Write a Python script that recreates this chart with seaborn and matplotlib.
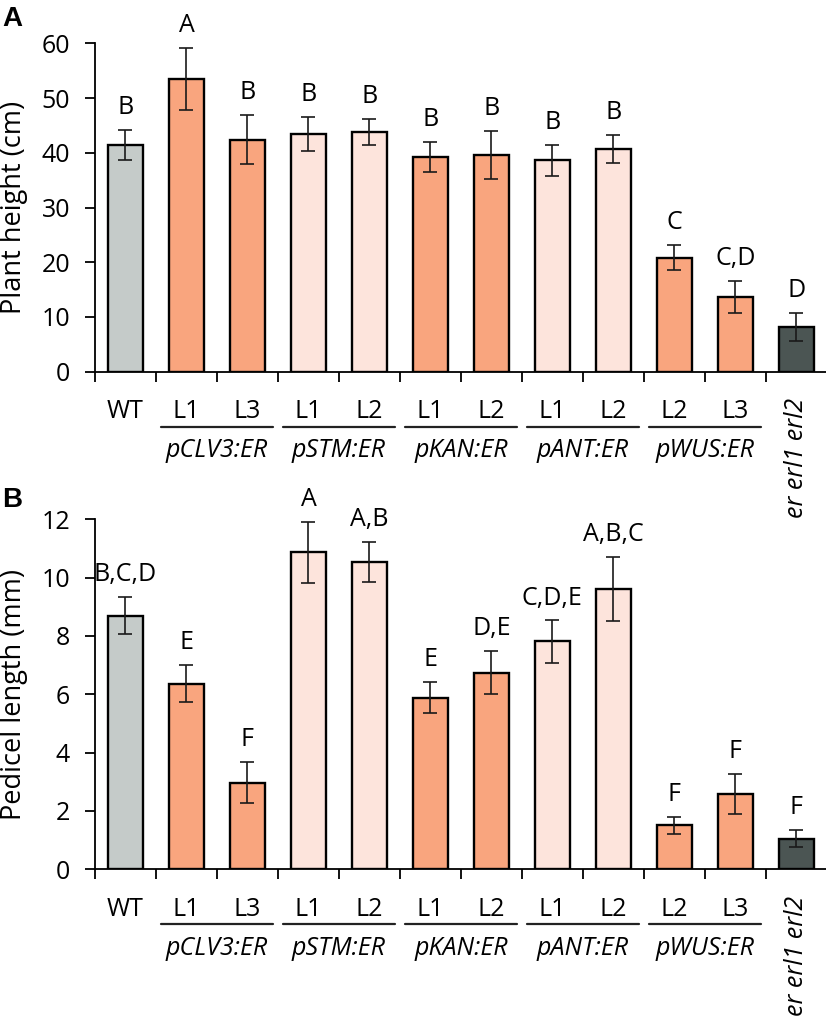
import numpy as np
import pandas as pd
import matplotlib
matplotlib.use("Agg")
import matplotlib.pyplot as plt
import matplotlib.transforms as mtransforms
import seaborn as sns

# -------------------------------
# DATA
# -------------------------------
categories = ["WT", "pCLV3 L1", "pCLV3 L3", "pSTM L1", "pSTM L2", "pKAN L1",
              "pKAN L2", "pANT L1", "pANT L2", "pWUS L2", "pWUS L3", "er erl1 erl2"]
tick_labels = ["WT", "L1", "L3", "L1", "L2", "L1", "L2", "L1", "L2", "L2", "L3", ""]
bar_kind = ["wt", "orange", "orange", "light", "light", "orange",
            "orange", "light", "light", "orange", "orange", "mutant"]

groups = ["pCLV3:ER", "pSTM:ER", "pKAN:ER", "pANT:ER", "pWUS:ER"]
group_start = [1, 3, 5, 7, 9]

height_mean = [41.4, 53.5, 42.4, 43.4, 43.8, 39.2, 39.6, 38.6, 40.7, 20.8, 13.6, 8.2]
height_err = [2.7, 5.7, 4.5, 3.1, 2.4, 2.7, 4.4, 2.8, 2.6, 2.3, 2.9, 2.6]
height_letters = ["B", "A", "B", "B", "B", "B", "B", "B", "B", "C", "C,D", "D"]

pedicel_mean = [8.70, 6.37, 2.97, 10.87, 10.53, 5.89, 6.74, 7.81, 9.60, 1.51, 2.58, 1.05]
pedicel_err = [0.65, 0.63, 0.70, 1.05, 0.68, 0.53, 0.74, 0.72, 1.10, 0.30, 0.69, 0.30]
pedicel_letters = ["B,C,D", "E", "F", "A", "A,B", "E", "D,E", "C,D,E", "A,B,C", "F", "F", "F"]

kind_colors = {"wt": "#c5cbc9", "orange": "#f9a57e", "light": "#fde4dc", "mutant": "#4b5553"}

# -------------------------------
# STYLE
# -------------------------------
sns.set_style("ticks")
plt.rcParams['font.family'] = ['Open Sans', 'DejaVu Sans']
plt.rcParams['text.color'] = 'black'
plt.rcParams['axes.labelcolor'] = 'black'
plt.rcParams['xtick.color'] = 'black'
plt.rcParams['ytick.color'] = 'black'
FS = 18


def draw_panel(ax, mean, err, letters, ymax, ystep, ylabel, panel):
    df = pd.DataFrame({"cat": categories, "val": mean, "err": err, "kind": bar_kind})
    palette = {c: kind_colors[k] for c, k in zip(categories, bar_kind)}
    sns.barplot(data=df, x="cat", y="val", hue="cat", palette=palette, legend=False,
                width=0.57, edgecolor="black", linewidth=1.7, saturation=1, ax=ax)
    xs = np.arange(len(categories))
    ax.errorbar(xs, df["val"], yerr=df["err"], fmt="none", ecolor="#1a1a1a",
                elinewidth=1.2, capsize=4.8, capthick=1.2, zorder=5)

    # significance letters
    for x, m, e, t in zip(xs, mean, err, letters):
        ax.annotate(t, xy=(x, m + e), xytext=(0, 11.5), textcoords="offset points",
                    ha="center", va="baseline", fontsize=FS)

    ax.set_xlim(-0.5, len(categories) - 0.5)
    ax.set_ylim(0, ymax)
    ax.set_yticks(np.arange(0, ymax + 0.01, ystep))
    ax.set_xticks(xs)
    ax.set_xticklabels(tick_labels)
    ax.set_xticks(np.arange(-0.5, len(categories)), minor=True)
    ax.tick_params(axis="x", which="major", length=0, pad=20, labelsize=FS)
    ax.tick_params(axis="x", which="minor", length=7, width=1.3, direction="out", color="black")
    ax.tick_params(axis="y", length=7, width=1.3, pad=11, labelsize=FS, color="black")
    ax.set_xlabel("")
    ax.set_ylabel(ylabel, fontsize=19.5)
    ax.yaxis.set_label_coords(-0.091, 0.5)
    for s in ["top", "right"]:
        ax.spines[s].set_visible(False)
    for s in ["left", "bottom"]:
        ax.spines[s].set_linewidth(1.3)
        ax.spines[s].set_color("black")

    # group lines and names under the ticks
    trans = mtransforms.blended_transform_factory(ax.transData, ax.transAxes)
    line_tr = mtransforms.offset_copy(trans, fig=ax.figure, y=-55, units="dots")
    for g, s in zip(groups, group_start):
        ax.plot([s - 0.42, s + 1.42], [0, 0], color="#222222", lw=1.6,
                transform=line_tr, clip_on=False)
        ax.annotate(g, xy=(s + 0.5, 0), xycoords=trans, xytext=(0, -57),
                    textcoords="offset points", ha="center", va="center",
                    fontsize=FS, style="italic")
    ax.annotate(categories[-1], xy=(len(categories) - 1, 0), xycoords=trans,
                xytext=(0, -19), textcoords="offset points", ha="center", va="top",
                rotation=90, fontsize=FS, style="italic")

    ax.figure.text(0.003, ax.get_position().y1 + (0.037 if panel == "A" else 0.032), panel,
                   fontsize=20, fontweight="bold", family="Liberation Sans",
                   ha="left", va="top")


fig = plt.figure(figsize=(8.26, 10.22), dpi=100)
ax1 = fig.add_axes([0.115, 0.6363, 0.886, 0.3213])
ax2 = fig.add_axes([0.115, 0.1494, 0.886, 0.3425])

draw_panel(ax1, height_mean, height_err, height_letters, 60, 10, "Plant height (cm)", "A")
draw_panel(ax2, pedicel_mean, pedicel_err, pedicel_letters, 12, 2, "Pedicel length (mm)", "B")

plt.savefig("out.png", dpi=100)
